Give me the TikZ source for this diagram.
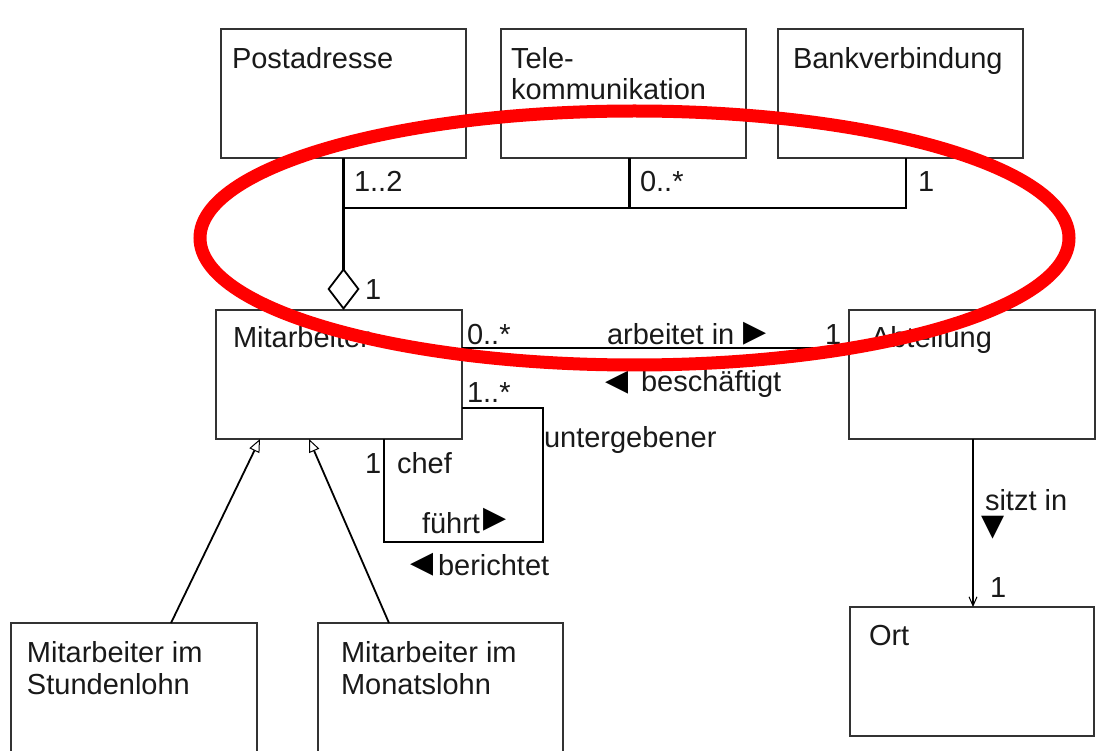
\documentclass[tikz,border=0pt]{standalone}
\usepackage{fontspec}
\setmainfont{Liberation Sans}
\newfontfamily\symfont{DejaVu Sans}
\usetikzlibrary{arrows.meta}
\begin{document}
\begin{tikzpicture}[x=1pt,y=-1pt,
  box/.style={draw=black!80, line width=1.8pt, rectangle, inner sep=0pt, outer sep=0pt, anchor=north west, minimum width=245pt, minimum height=129pt},
  txt/.style={anchor=base west, inner sep=0pt, outer sep=0pt, align=left, font=\fontsize{29}{31.5}\selectfont, text=black!90},
  sym/.style={inner sep=0pt, outer sep=0pt, font=\symfont\fontsize{30}{30}\selectfont},
  conn/.style={line width=2.6pt, black},
  gen/.style={line width=1.8pt, -{Triangle[open, length=13pt, width=11pt, line width=1pt]}},
]
\useasboundingbox (0,0) rectangle (1096,751);
\clip (0,0) rectangle (1096,751);

% classes
\node[box] (P) at (221,29) {};
\node[box] (T) at (501,29) {};
\node[box] (B) at (778,29) {};
\node[box, minimum width=246pt] (M) at (216,310) {};
\node[box, minimum width=246pt] (A) at (849,310) {};
\node[box, minimum width=244pt] (O) at (850,607) {};
\node[box, minimum width=246pt, minimum height=160pt] (S) at (11,623) {};
\node[box, minimum width=245pt, minimum height=160pt] (N) at (318,623) {};

% class names
\node[txt] (Pt) at ([shift={(11,40)}]P.north west) {Postadresse};
\node[txt] (Tt) at ([shift={(10,71)}]T.north west) {Tele-\\kommunikation};
\node[txt] (Bt) at ([shift={(15,40)}]B.north west) {Bankverbindung};
\node[txt] (Mt) at ([shift={(17,38)}]M.north west) {Mitarbeiter};
\node[txt] (At) at ([shift={(22,38)}]A.north west) {Abteilung};
\node[txt] (Ot) at ([shift={(19,38)}]O.north west) {Ort};
\node[txt] (St) at ([shift={(16,71)}]S.north west) {Mitarbeiter im\\Stundenlohn};
\node[txt] (Nt) at ([shift={(23,71)}]N.north west) {Mitarbeiter im\\Monatslohn};

% aggregation
\coordinate (jP) at (343.5,208);
\coordinate (jT) at (629.5,208);
\coordinate (jB) at (906,208);
\draw[conn] (P.south) -- (jP) -- (jB) -- (jB |- B.south);
\draw[conn] (jT) -- (jT |- T.south);
\draw[conn, -{Diamond[open, length=42pt, width=32pt, line width=1.8pt]}] (jP) -- (jP |- M.north);

% association Mitarbeiter - Abteilung
\coordinate (yMA) at (0,348);
\draw[conn] (M.east |- yMA) -- (A.west |- yMA);

% self association
\coordinate (l1) at (543,408);
\coordinate (l2) at (384,542);
\draw[conn] (M.east |- l1) -- (l1) |- (l2) -- (l2 |- M.south);

% generalizations
\draw[gen] ([xshift=37pt]S.north) -- ([xshift=44pt]M.south west);
\draw[gen] ([xshift=-51.5pt]N.north) -- ([xshift=93pt]M.south west);

% Abteilung -> Ort
\draw[line width=2pt, -{Straight Barb[length=9pt, width=8pt, line width=1pt]}] ([xshift=1pt]A.south) -- ([xshift=1pt]A.south |- O.north);

% labels
\node[txt] (m12) at (354,192) {1..2};
\node[txt] (m0a) at (640,192) {0..*};
\node[txt] (m1b) at (918,192) {1};
\node[txt] (m1d) at (365,300) {1};
\node[txt] (m0b) at (467,345) {0..*};
\node[txt] (arb) at (607,345) {arbeitet in};
\node[sym] (arbT) at (755,334) {▶};
\node[txt] (m1a) at (825,345) {1};
\node[sym] (besT) at (617,383) {◀};
\node[txt] (bes) at (641,392) {beschäftigt};
\node[txt] (m1s) at (467,403) {1..*};
\node[txt] (unt) at (544,447) {untergebener};
\node[txt] (m1c) at (365,473) {1};
\node[txt] (chef) at (397,473) {chef};
\node[txt] (fue) at (422,533) {führt};
\node[sym] (fueT) at (495,520) {▶};
\node[sym] (berT) at (422,565) {◀};
\node[txt] (ber) at (438,575) {berichtet};
\node[txt] (sit) at (985,510) {sitzt in};
\node[sym] (sitT) at (993,528) {▼};
\node[txt] (m1o) at (990,597) {1};

% highlight
\draw[red, line width=13pt] (634.5,238) ellipse [x radius=434.5pt, y radius=127pt];
\end{tikzpicture}
\end{document}
